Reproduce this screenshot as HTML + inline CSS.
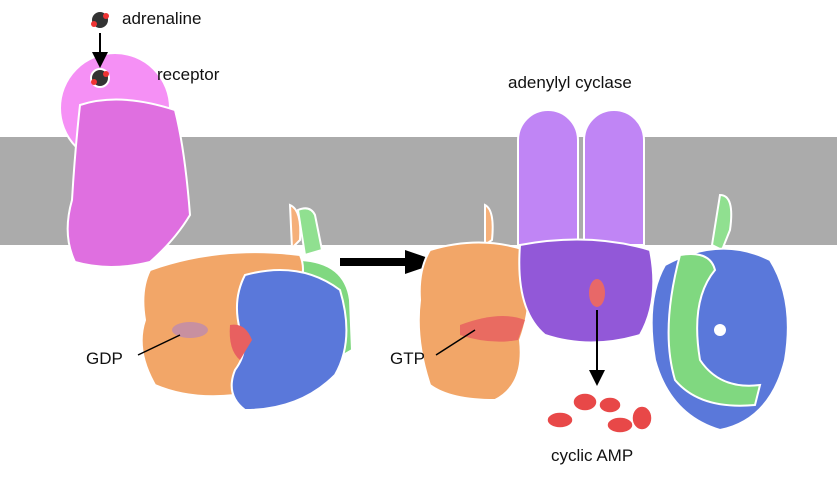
<!DOCTYPE html>
<html><head><meta charset="utf-8"><style>
html,body{margin:0;padding:0;background:#fff;}
svg{display:block;}
text{font-family:"Liberation Sans",sans-serif;font-size:17px;fill:#111;}
</style></head><body>
<svg width="837" height="481" viewBox="0 0 837 481" xmlns="http://www.w3.org/2000/svg">
<defs>
<marker id="ah" markerWidth="8" markerHeight="8" refX="4" refY="4" orient="auto"><path d="M0,0 L8,4 L0,8 z" fill="#000"/></marker>
</defs>
<!-- membrane -->
<rect x="0" y="137" width="837" height="108" fill="#ababab"/>
<!-- receptor -->
<circle cx="115" cy="108" r="55" fill="#f590f5" stroke="#fff" stroke-width="2"/>
<path d="M80,105 Q120,92 175,110 Q185,150 190,215 Q175,240 150,262 Q110,272 75,262 Q62,235 72,200 Q75,150 80,105z" fill="#df6fe0" stroke="#fff" stroke-width="2"/>
<!-- adrenaline -->
<g><circle cx="100" cy="20" r="9" fill="#333" stroke="#fff" stroke-width="2"/><circle cx="94" cy="24" r="3" fill="#e33"/><circle cx="106" cy="16" r="3" fill="#e33"/></g>
<line x1="100" y1="33" x2="100" y2="60" stroke="#000" stroke-width="2" marker-end="url(#ah)"/>
<g><circle cx="100" cy="78" r="9" fill="#333" stroke="#fff" stroke-width="2"/><circle cx="94" cy="82" r="3" fill="#e33"/><circle cx="106" cy="74" r="3" fill="#e33"/></g>
<text x="122" y="24">adrenaline</text>
<text x="157" y="80">receptor</text>
<!-- left G protein -->
<path d="M298,210 Q310,205 315,215 L322,250 L305,255z" fill="#90e090" stroke="#fff" stroke-width="2"/>
<path d="M290,205 Q302,210 300,240 L292,248z" fill="#f5b07a" stroke="#fff" stroke-width="2"/>
<path d="M300,260 Q345,262 350,300 L352,350 L335,360 L310,300z" fill="#80d880" stroke="#fff" stroke-width="2"/>
<path d="M150,270 Q220,245 300,255 Q315,290 255,330 Q245,370 235,395 Q190,400 155,385 Q135,350 145,320 Q140,290 150,270z" fill="#f2a668" stroke="#fff" stroke-width="2"/>
<path d="M245,275 Q300,260 340,290 Q355,340 335,375 Q300,410 245,410 Q225,395 235,370 Q250,350 240,330 Q232,300 245,275z" fill="#5a78da" stroke="#fff" stroke-width="2"/>
<path d="M230,325 Q245,322 252,340 L240,360 Q228,350 230,325z" fill="#e86060"/>
<ellipse cx="190" cy="330" rx="18" ry="8" fill="#c890a0"/>
<line x1="138" y1="355" x2="180" y2="335" stroke="#000" stroke-width="1.5"/>
<text x="86" y="364">GDP</text>
<!-- big arrow -->
<line x1="340" y1="262" x2="410" y2="262" stroke="#000" stroke-width="8"/>
<path d="M405,250 L440,262 L405,274z" fill="#000"/>
<!-- adenylyl cyclase -->
<text x="508" y="88">adenylyl cyclase</text>
<g fill="#c085f5" stroke="#fff" stroke-width="2">
<path d="M518,245 L518,140 A30,30 0 1 1 578,140 L578,245z"/>
<path d="M584,245 L584,140 A30,30 0 1 1 644,140 L644,245z"/>
</g>
<path d="M485,205 Q495,210 492,240 L485,245z" fill="#f5b07a" stroke="#fff" stroke-width="2"/>
<path d="M430,250 Q480,235 525,250 Q535,300 520,340 Q525,385 495,400 Q450,400 430,385 Q415,340 420,300 Q418,270 430,250z" fill="#f2a668" stroke="#fff" stroke-width="2"/>
<path d="M520,245 Q590,232 650,250 Q660,300 640,335 Q590,350 545,335 Q515,310 520,245z" fill="#9258d8" stroke="#fff" stroke-width="2"/>
<path d="M460,325 Q500,310 525,320 L518,340 Q490,345 460,335z" fill="#e86060" opacity="0.85"/>
<ellipse cx="597" cy="293" rx="8" ry="14" fill="#e86868"/>
<line x1="436" y1="355" x2="475" y2="330" stroke="#000" stroke-width="1.5"/>
<text x="390" y="364">GTP</text>
<line x1="597" y1="310" x2="597" y2="378" stroke="#000" stroke-width="2" marker-end="url(#ah)"/>
<g fill="#e84848" stroke="#fff" stroke-width="1.5">
<ellipse cx="560" cy="420" rx="13" ry="8"/><ellipse cx="585" cy="402" rx="12" ry="9"/>
<ellipse cx="610" cy="405" rx="11" ry="8"/><ellipse cx="620" cy="425" rx="13" ry="8"/>
<ellipse cx="642" cy="418" rx="10" ry="12"/>
</g>
<text x="551" y="461">cyclic AMP</text>
<!-- right G protein -->
<path d="M720,195 Q735,195 730,230 L722,250 L712,245z" fill="#90e090" stroke="#fff" stroke-width="2"/>
<path d="M665,265 Q720,235 770,260 Q795,300 785,360 Q770,420 720,430 Q670,415 655,360 Q645,300 665,265z" fill="#5a78da" stroke="#fff" stroke-width="2"/>
<path d="M680,255 Q710,250 715,270 Q690,300 700,360 Q720,390 760,385 L755,405 Q700,410 675,380 Q660,330 680,255z" fill="#80d880" stroke="#fff" stroke-width="2"/>
<circle cx="720" cy="330" r="6" fill="#fff"/>
</svg>
</body></html>
